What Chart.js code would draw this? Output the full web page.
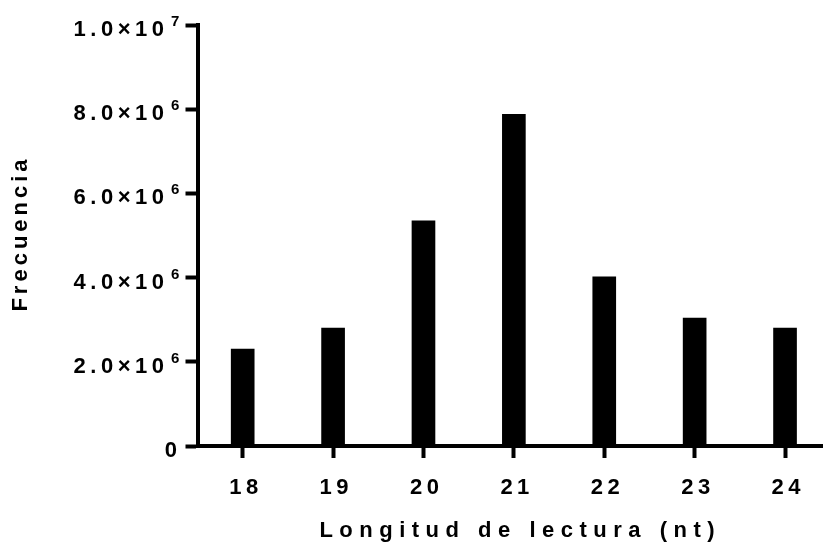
<!DOCTYPE html>
<html>
<head>
<meta charset="utf-8">
<script src="https://cdn.jsdelivr.net/npm/chart.js@4/dist/chart.umd.min.js"></script>
<style>
  html, body { margin: 0; padding: 0; background: #fff; }
  #wrap { width: 823px; height: 544px; }
</style>
</head>
<body>
<div id="wrap"><canvas id="c" width="823" height="544"></canvas></div>
<script>
// Read length (nt) and how many reads have each length
const lengths = [18, 19, 20, 21, 22, 23, 24];
const frequency = [2.30e6, 2.80e6, 5.35e6, 7.88e6, 4.02e6, 3.04e6, 2.80e6];

// Y-axis ticks, written as mantissa × 10^exponent
const yTickValues = [0, 2e6, 4e6, 6e6, 8e6, 1e7];
const yTickMantissa = ['0', '2.0×10', '4.0×10', '6.0×10', '8.0×10', '1.0×10'];
const yTickExponent = ['', '6', '6', '6', '6', '7'];

const xTitle = 'Longitud de lectura (nt)';
const yTitle = 'Frecuencia';

const FONT = '"Liberation Sans", Arial, Helvetica, sans-serif';

// Draw text with letter spacing; align is measured on the ink, without trailing space
function spacedText(ctx, text, x, y, spacing, align) {
  ctx.letterSpacing = spacing + 'px';
  ctx.textAlign = 'left';
  const w = ctx.measureText(text).width - spacing;
  let sx = x;
  if (align === 'center') sx = x - w / 2;
  else if (align === 'right') sx = x - w;
  ctx.fillText(text, sx, y);
}

// Tick labels and axis titles, placed from the scales
const textPlugin = {
  id: 'axisText',
  afterDraw(chart) {
    const ctx = chart.ctx;
    const xs = chart.scales.x;
    const ys = chart.scales.y;
    const area = chart.chartArea;
    ctx.save();
    ctx.fillStyle = '#000';
    ctx.textBaseline = 'alphabetic';

    // y tick labels with superscript exponent
    yTickValues.forEach((v, i) => {
      const py = ys.getPixelForValue(v);
      ctx.font = 'bold 22px ' + FONT;
      if (yTickExponent[i] === '') {
        spacedText(ctx, yTickMantissa[i], 177, py + 11, 0, 'right');
        return;
      }
      spacedText(ctx, yTickMantissa[i], 164, py + 11, 4.5, 'right');
      ctx.font = 'bold 15px ' + FONT;
      spacedText(ctx, yTickExponent[i], 171, py + 1, 0, 'left');
    });

    // x tick labels
    ctx.font = 'bold 22px ' + FONT;
    lengths.forEach(v => {
      spacedText(ctx, String(v), xs.getPixelForValue(v) + 1, area.bottom + 48, 4.5, 'center');
    });

    // x title
    spacedText(ctx, xTitle, 517, area.bottom + 91, 6.5, 'center');

    // y title, rotated
    ctx.translate(27, (area.top + area.bottom) / 2);
    ctx.rotate(-Math.PI / 2);
    spacedText(ctx, yTitle, 0, 0, 4, 'center');
    ctx.restore();
  }
};

new Chart(document.getElementById('c'), {
  type: 'bar',
  data: {
    datasets: [{
      data: lengths.map((x, i) => ({ x: x, y: frequency[i] })),
      backgroundColor: '#000',
      borderWidth: 0,
      barThickness: 23
    }]
  },
  options: {
    responsive: false,
    animation: false,
    events: [],
    layout: { padding: { top: 25, left: 0, right: 0, bottom: 0 } },
    plugins: { legend: { display: false }, tooltip: { enabled: false } },
    scales: {
      x: {
        type: 'linear',
        offset: false,
        min: 17.5,
        max: 24.42,
        afterBuildTicks(axis) { axis.ticks = lengths.map(v => ({ value: v })); },
        afterFit(axis) { axis.height = 98; },
        grid: { offset: false, drawOnChartArea: false, tickLength: 12, tickWidth: 4, tickColor: '#000' },
        border: { display: true, color: '#000', width: 4 },
        ticks: { display: false }
      },
      y: {
        min: 0,
        max: 1e7,
        afterBuildTicks(axis) { axis.ticks = yTickValues.map(v => ({ value: v })); },
        afterFit(axis) { axis.width = 197.5; },
        grid: { drawOnChartArea: false, tickLength: 12, tickWidth: 4, tickColor: '#000' },
        border: { display: true, color: '#000', width: 4 },
        ticks: { display: false }
      }
    }
  },
  plugins: [textPlugin]
});
</script>
</body>
</html>
